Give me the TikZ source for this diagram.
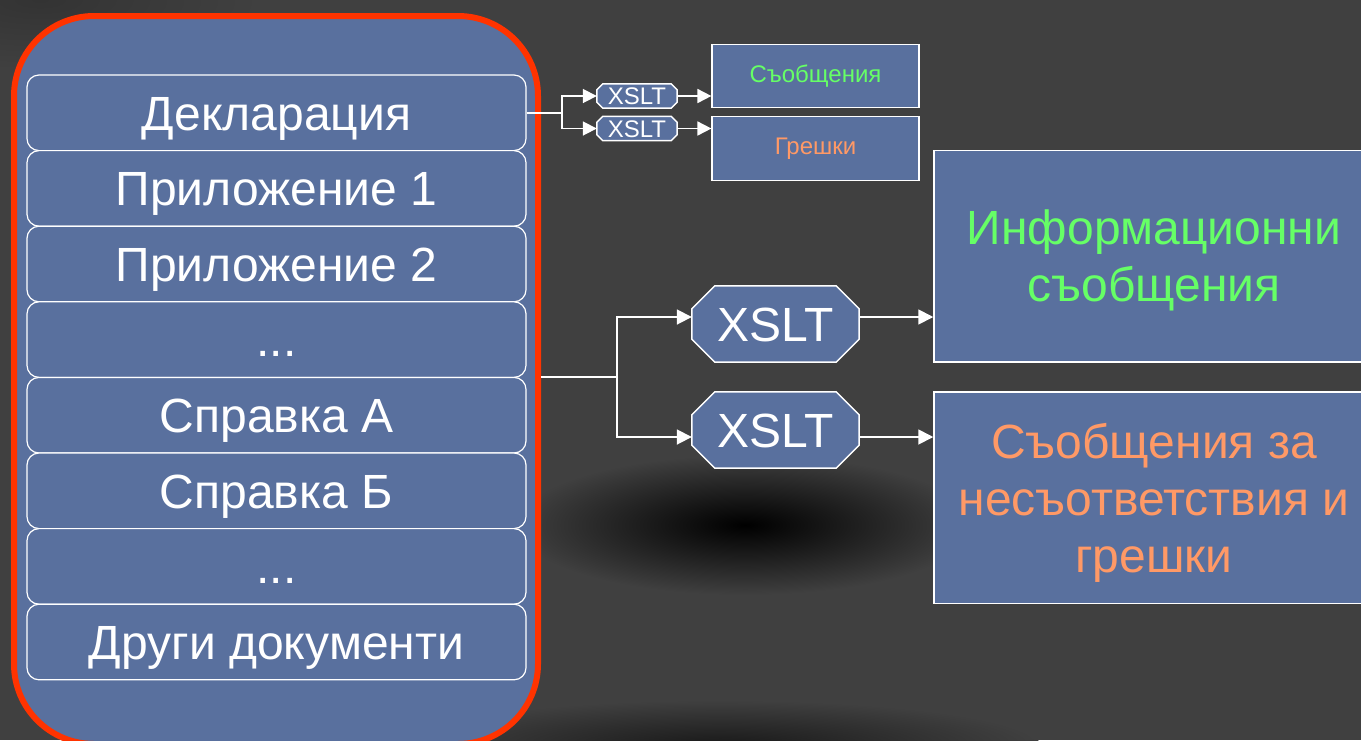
\documentclass[tikz,border=0pt]{standalone}
\usepackage{fontspec}
\setmainfont{Liberation Sans}
\usetikzlibrary{arrows.meta}
\definecolor{bgc}{RGB}{64,64,64}
\definecolor{boxblue}{RGB}{89,112,158}
\definecolor{redline}{RGB}{255,51,0}
\definecolor{txtgreen}{RGB}{102,255,102}
\definecolor{txtorange}{RGB}{255,153,102}
\pgfdeclarelayer{bg}
\pgfsetlayers{bg,main}
\newcommand\myoct[2]{%
  \fill[boxblue,draw=white,line width=1.5pt]
    ([xshift=#2]#1.north west) -- ([xshift=-#2]#1.north east) --
    ([yshift=-#2]#1.north east) -- ([yshift=#2]#1.south east) --
    ([xshift=-#2]#1.south east) -- ([xshift=#2]#1.south west) --
    ([yshift=#2]#1.south west) -- ([yshift=-#2]#1.north west) -- cycle;}
\begin{document}
\begin{tikzpicture}[x=1pt,y=-1pt,
  outerbox/.style={draw=redline, line width=6pt, fill=boxblue, rounded corners=80pt,
    minimum width=524pt, minimum height=728pt, inner sep=0pt},
  rowbox/.style={draw=white, line width=1.2pt, fill=boxblue, rounded corners=12pt,
    minimum width=499pt, minimum height=75.6pt, inner sep=0pt, text=white,
    font=\fontsize{48}{57}\selectfont, text height=34.5pt, text depth=0pt},
  bigoct/.style={minimum width=167pt, minimum height=76pt, inner sep=0pt, text=white,
    font=\fontsize{48}{56}\selectfont, text height=35pt, text depth=0pt},
  smalloct/.style={minimum width=80pt, minimum height=24pt, inner sep=0pt, text=white,
    font=\fontsize{24}{28}\selectfont, text height=17pt, text depth=0pt},
  smallbox/.style={draw=white, line width=1.2pt, fill=boxblue, minimum width=207pt,
    minimum height=63.5pt, inner sep=0pt, font=\fontsize{24}{28}\selectfont},
  bigbox/.style={draw=white, line width=1.5pt, fill=boxblue, minimum width=440pt,
    minimum height=211.5pt, inner sep=0pt, align=center, text depth=0pt,
    font=\fontsize{48}{57}\selectfont},
  link/.style={draw=white, line width=1.8pt},
  arr/.style={link, -{Triangle[length=15pt,width=15pt]}},
  sarr/.style={link, -{Triangle[length=14pt,width=14pt]}}
]
\useasboundingbox (0,0) rectangle (1361,740);
\clip (0,0) rectangle (1361,740);
\begin{pgfonlayer}{bg}
  \fill[bgc] (0,0) rectangle (1361,740);
  \shade[inner color=black, outer color=bgc] (745,525) ellipse (230 and 70);
  \shade[inner color=black!90, outer color=bgc] (720,745) ellipse (320 and 45);
  \shade[inner color=black!80, outer color=bgc] (40,0) ellipse (220 and 70);
\end{pgfonlayer}

% left container
\node[outerbox] (outer) at (276,380) {};
\node[rowbox] (r1) at (276.5,112.8) {Декларация};
\node[rowbox] (r2) at (276.5,188.4) {Приложение 1};
\node[rowbox] (r3) at (276.5,264.0) {Приложение 2};
\node[rowbox] (r4) at (276.5,339.6) {...};
\node[rowbox] (r5) at (276.5,415.2) {Справка А};
\node[rowbox] (r6) at (276.5,490.8) {Справка Б};
\node[rowbox] (r7) at (276.5,566.4) {...};
\node[rowbox] (r8) at (276.5,642.0) {Други документи};

% small branch
\node[smalloct] (sx1) at (637,96) {XSLT};
\node[smalloct] (sx2) at (637,128.5) {XSLT};
\begin{pgfonlayer}{bg}
  \myoct{sx1}{6}
  \myoct{sx2}{6}
\end{pgfonlayer}
\node[smallbox, text=txtgreen] (sb1) at (815.5,76) {Съобщения};
\node[smallbox, text=txtorange] (sb2) at (815.5,148.5) {Грешки};
\coordinate (sj) at (562,112.8);
\draw[link] (r1.east) -- (sj);
\draw[sarr] (sj) |- (sx1.west);
\draw[sarr] (sj) |- (sx2.west);
\draw[sarr] (sx1.east) -- (sx1.east -| sb1.west);
\draw[sarr] (sx2.east) -- (sx2.east -| sb2.west);

% big branch
\node[bigoct] (x1) at (775.5,324) {XSLT};
\node[bigoct] (x2) at (775.5,430) {XSLT};
\begin{pgfonlayer}{bg}
  \myoct{x1}{23}
  \myoct{x2}{23}
\end{pgfonlayer}
\node[bigbox, text=txtgreen] (b1) at (1154,256) {Информационни\\съобщения};
\node[bigbox, text=txtorange] (b2) at (1154,497.5) {Съобщения за\\несъответствия и\\грешки};
\coordinate (bj) at (617,377);
\coordinate (a1) at (617,317);
\coordinate (a2) at (617,437);
\draw[link] (bj -| outer.east) -- (bj);
\draw[arr] (bj) |- (a1 -| x1.west);
\draw[arr] (bj) |- (a2 -| x2.west);
\draw[arr] (a1 -| x1.east) -- (a1 -| b1.west);
\draw[arr] (a2 -| x2.east) -- (a2 -| b2.west);
\end{tikzpicture}
\end{document}
